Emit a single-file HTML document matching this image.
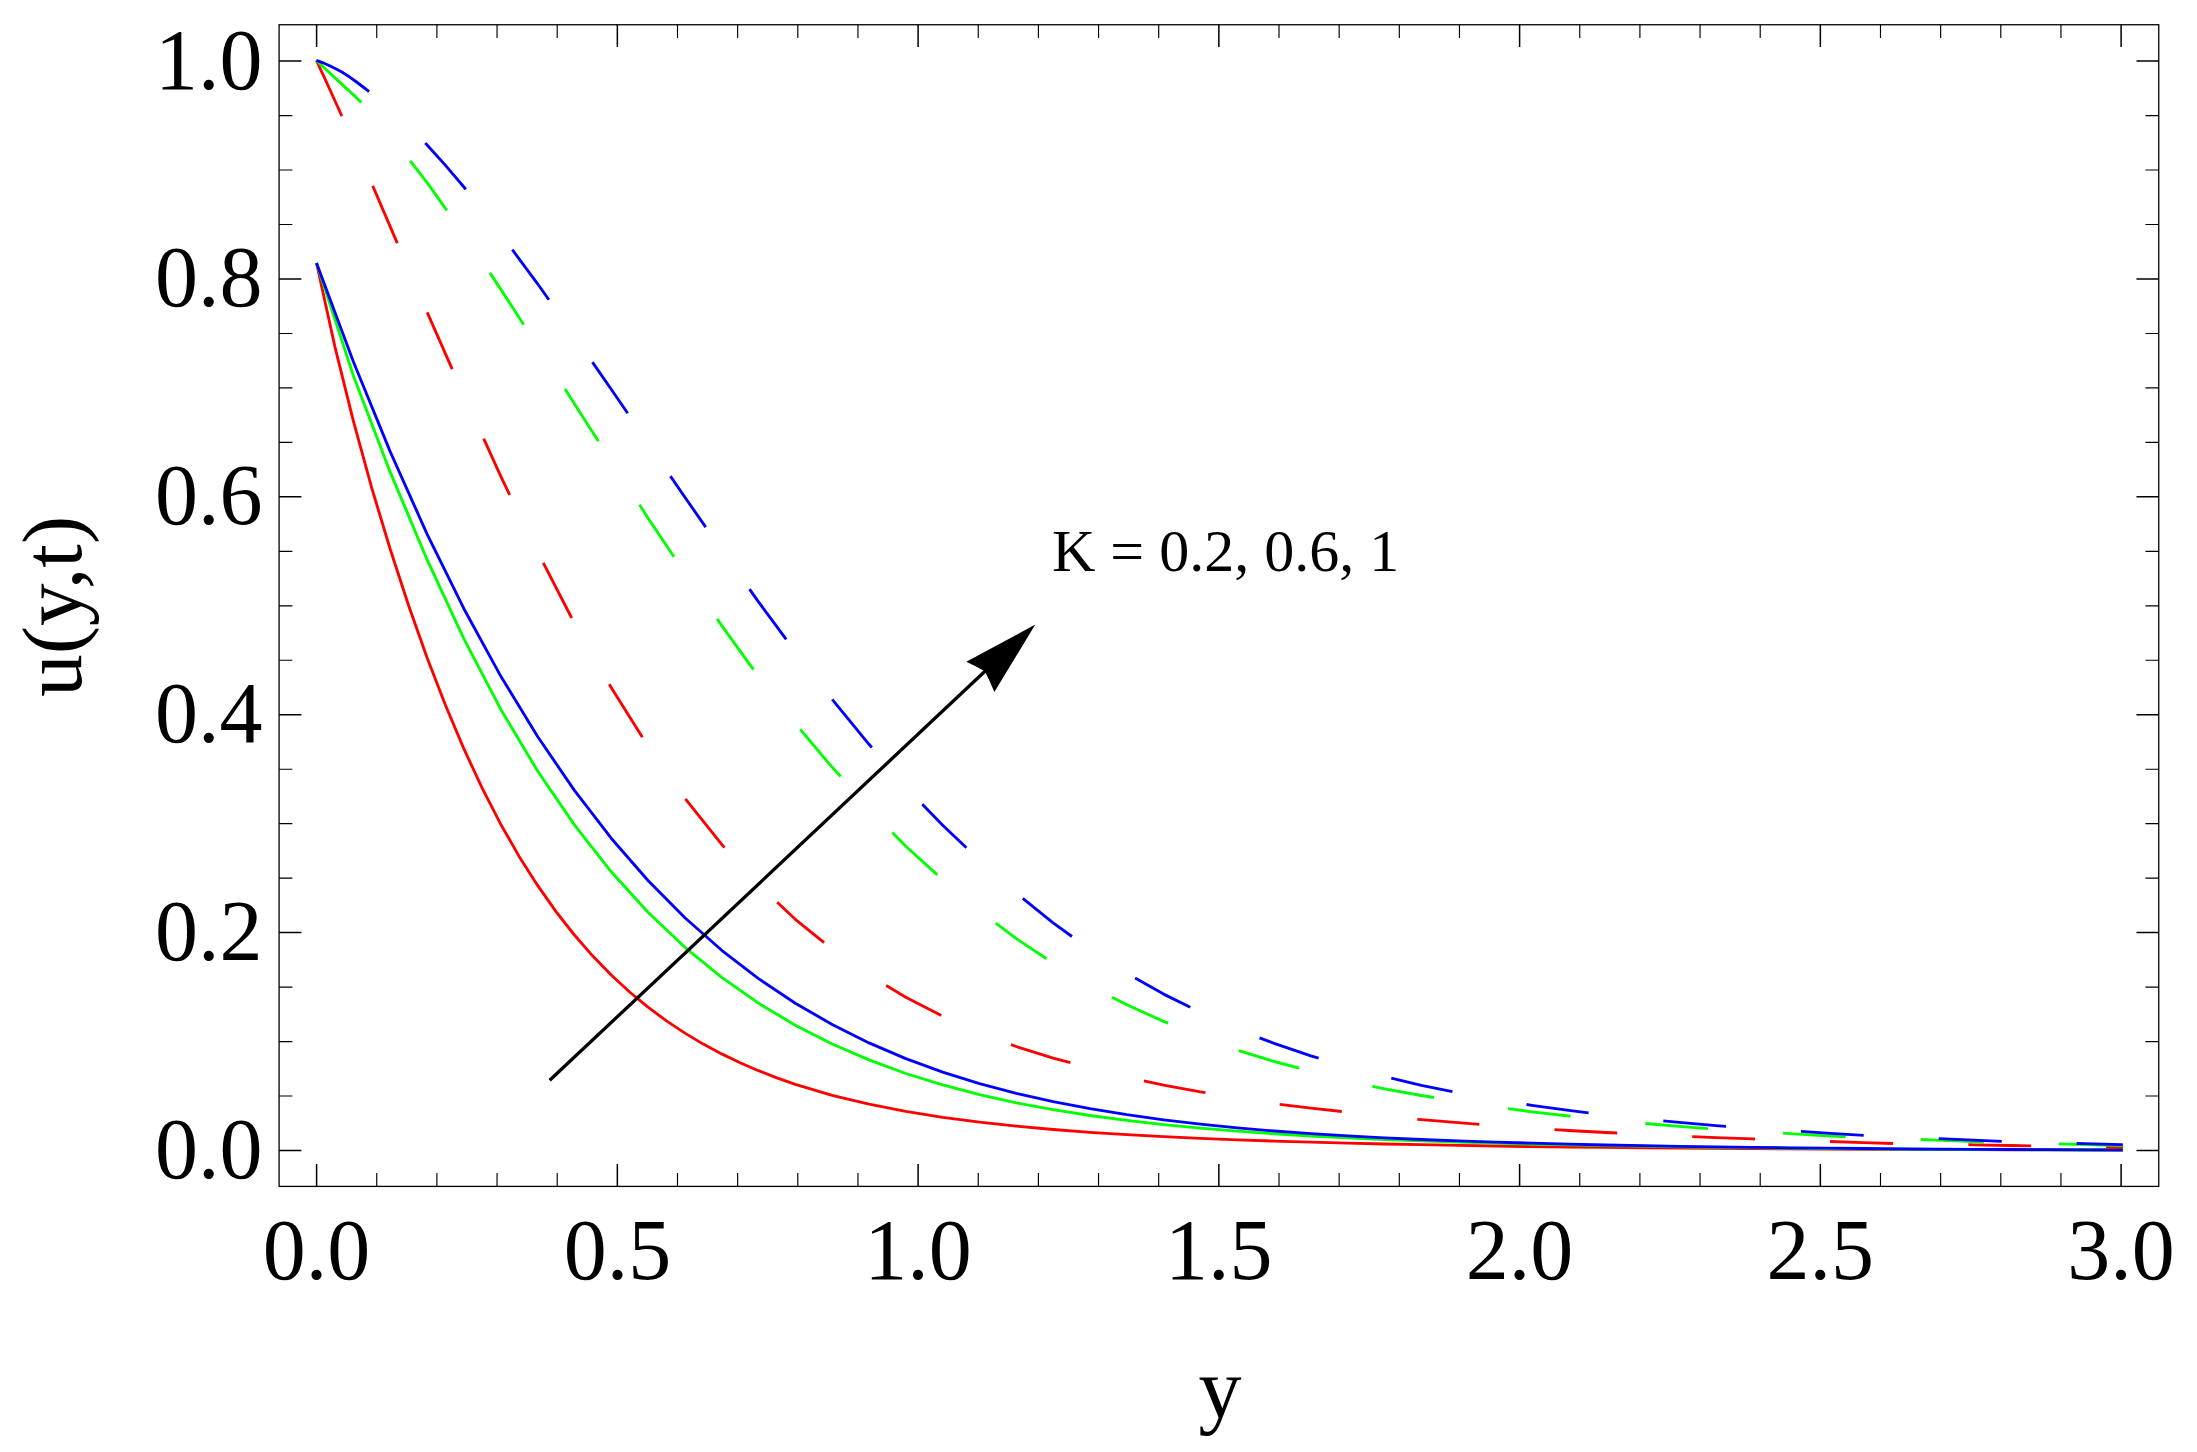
<!DOCTYPE html>
<html><head><meta charset="utf-8"><title>u(y,t) plot</title>
<style>html,body{margin:0;padding:0;background:#fff}svg{display:block}</style></head>
<body>
<svg width="2197" height="1452" viewBox="0 0 2197 1452">
<rect x="0" y="0" width="2197" height="1452" fill="#fff"/>
<path d="M316.60 1186.40V1164.10M316.60 24.75V47.05M617.35 1186.40V1164.10M617.35 24.75V47.05M918.10 1186.40V1164.10M918.10 24.75V47.05M1218.85 1186.40V1164.10M1218.85 24.75V47.05M1519.60 1186.40V1164.10M1519.60 24.75V47.05M1820.35 1186.40V1164.10M1820.35 24.75V47.05M2121.10 1186.40V1164.10M2121.10 24.75V47.05M279.10 1150.50H301.40M2158.75 1150.50H2136.45M279.10 932.62H301.40M2158.75 932.62H2136.45M279.10 714.74H301.40M2158.75 714.74H2136.45M279.10 496.86H301.40M2158.75 496.86H2136.45M279.10 278.98H301.40M2158.75 278.98H2136.45M279.10 61.10H301.40M2158.75 61.10H2136.45" fill="none" stroke="#000" stroke-width="1.5"/>
<path d="M376.75 1186.40V1173.10M376.75 24.75V38.05M436.90 1186.40V1173.10M436.90 24.75V38.05M497.05 1186.40V1173.10M497.05 24.75V38.05M557.20 1186.40V1173.10M557.20 24.75V38.05M677.50 1186.40V1173.10M677.50 24.75V38.05M737.65 1186.40V1173.10M737.65 24.75V38.05M797.80 1186.40V1173.10M797.80 24.75V38.05M857.95 1186.40V1173.10M857.95 24.75V38.05M978.25 1186.40V1173.10M978.25 24.75V38.05M1038.40 1186.40V1173.10M1038.40 24.75V38.05M1098.55 1186.40V1173.10M1098.55 24.75V38.05M1158.70 1186.40V1173.10M1158.70 24.75V38.05M1279.00 1186.40V1173.10M1279.00 24.75V38.05M1339.15 1186.40V1173.10M1339.15 24.75V38.05M1399.30 1186.40V1173.10M1399.30 24.75V38.05M1459.45 1186.40V1173.10M1459.45 24.75V38.05M1579.75 1186.40V1173.10M1579.75 24.75V38.05M1639.90 1186.40V1173.10M1639.90 24.75V38.05M1700.05 1186.40V1173.10M1700.05 24.75V38.05M1760.20 1186.40V1173.10M1760.20 24.75V38.05M1880.50 1186.40V1173.10M1880.50 24.75V38.05M1940.65 1186.40V1173.10M1940.65 24.75V38.05M2000.80 1186.40V1173.10M2000.80 24.75V38.05M2060.95 1186.40V1173.10M2060.95 24.75V38.05M279.10 1096.03H292.40M2158.75 1096.03H2145.45M279.10 1041.56H292.40M2158.75 1041.56H2145.45M279.10 987.09H292.40M2158.75 987.09H2145.45M279.10 878.15H292.40M2158.75 878.15H2145.45M279.10 823.68H292.40M2158.75 823.68H2145.45M279.10 769.21H292.40M2158.75 769.21H2145.45M279.10 660.27H292.40M2158.75 660.27H2145.45M279.10 605.80H292.40M2158.75 605.80H2145.45M279.10 551.33H292.40M2158.75 551.33H2145.45M279.10 442.39H292.40M2158.75 442.39H2145.45M279.10 387.92H292.40M2158.75 387.92H2145.45M279.10 333.45H292.40M2158.75 333.45H2145.45M279.10 224.51H292.40M2158.75 224.51H2145.45M279.10 170.04H292.40M2158.75 170.04H2145.45M279.10 115.57H292.40M2158.75 115.57H2145.45" fill="none" stroke="#000" stroke-width="1.15"/>
<rect x="279.1" y="24.75" width="1879.65" height="1161.65" fill="none" stroke="#000" stroke-width="1.3"/>
<path d="M316.5 263.0L335.0 347.1L353.4 421.2L371.8 488.2L390.3 549.5L408.7 605.8L427.1 657.7L445.5 705.3L463.9 748.9L482.3 788.4L500.7 824.2L519.1 856.4L537.6 885.4L556.0 911.6L574.4 935.0L592.8 956.1L611.2 975.0L629.6 992.0L648.0 1007.2L666.5 1020.9L684.9 1033.1L703.3 1044.1L721.7 1053.9L740.1 1062.8L758.5 1070.7L776.9 1077.8L795.3 1084.3L832.2 1095.3L869.0 1104.2L905.8 1111.4L942.7 1117.3L979.5 1122.2L1016.3 1126.2L1053.1 1129.5L1090.0 1132.3L1126.8 1134.7L1163.6 1136.7L1200.4 1138.4L1237.3 1139.8L1274.1 1141.1L1310.9 1142.2L1347.7 1143.1L1384.6 1144.0L1421.4 1144.7L1458.2 1145.4L1495.0 1146.0L1531.9 1146.6L1568.7 1147.0L1605.5 1147.4L1642.4 1147.8L1679.2 1148.1L1716.0 1148.4L1752.8 1148.7L1789.7 1148.9L1826.5 1149.1L1863.3 1149.3L1900.1 1149.4L1937.0 1149.5L1973.8 1149.6L2010.6 1149.7L2047.4 1149.8L2084.3 1149.9L2122.8 1149.9" fill="none" stroke="#ff0000" stroke-width="2.85" stroke-linejoin="round"/>
<path d="M316.5 263.0L353.4 375.8L390.3 472.4L427.1 559.7L463.9 638.9L500.7 709.2L537.6 771.0L574.4 824.9L611.2 871.8L648.0 912.3L684.9 947.3L721.7 977.4L758.5 1003.2L795.3 1025.2L832.2 1044.0L869.0 1059.9L905.8 1073.5L942.7 1084.9L979.5 1094.6L1016.3 1102.8L1053.1 1109.7L1090.0 1115.5L1126.8 1120.4L1163.6 1124.6L1200.4 1128.2L1237.3 1131.2L1274.1 1133.8L1310.9 1136.0L1347.7 1137.9L1384.6 1139.5L1421.4 1140.9L1458.2 1142.1L1495.0 1143.2L1531.9 1144.1L1568.7 1144.9L1605.5 1145.6L1642.4 1146.2L1679.2 1146.8L1716.0 1147.3L1752.8 1147.7L1789.7 1148.1L1826.5 1148.5L1863.3 1148.8L1900.1 1149.0L1937.0 1149.3L1973.8 1149.5L2010.6 1149.7L2047.4 1149.8L2084.3 1150.0L2122.8 1150.1" fill="none" stroke="#00ff00" stroke-width="2.85" stroke-linejoin="round"/>
<path d="M316.5 263.0L353.4 361.8L390.3 451.9L427.1 534.1L463.9 608.7L500.7 676.1L537.6 736.5L574.4 790.4L611.2 838.2L648.0 880.5L684.9 917.7L721.7 950.3L758.5 978.6L795.3 1003.2L832.2 1024.5L869.0 1042.9L905.8 1058.6L942.7 1072.1L979.5 1083.6L1016.3 1093.3L1053.1 1101.7L1090.0 1108.7L1126.8 1114.7L1163.6 1119.8L1200.4 1124.2L1237.3 1127.9L1274.1 1131.0L1310.9 1133.7L1347.7 1135.9L1384.6 1137.9L1421.4 1139.5L1458.2 1140.9L1495.0 1142.2L1531.9 1143.2L1568.7 1144.1L1605.5 1145.0L1642.4 1145.7L1679.2 1146.3L1716.0 1146.8L1752.8 1147.3L1789.7 1147.8L1826.5 1148.1L1863.3 1148.5L1900.1 1148.8L1937.0 1149.1L1973.8 1149.3L2010.6 1149.5L2047.4 1149.7L2084.3 1149.9L2122.8 1150.0" fill="none" stroke="#0000ff" stroke-width="2.85" stroke-linejoin="round"/>
<path d="M316.4 60.4L319.6 67.3L322.8 74.2L326.0 81.1L329.1 88.0L332.3 95.0L335.5 102.0L338.7 109.0L341.9 116.1M372.7 185.8L390.3 226.9L397.3 243.1M427.2 312.4L452.2 369.1M483.7 438.6L500.7 476.1L509.7 494.8M543.3 562.9L571.7 618.0M609.3 684.1L611.2 687.5L642.4 737.2M685.4 798.9L721.7 844.4L724.5 847.5M777.2 902.2L795.3 919.3L824.1 942.7M886.2 985.5L905.8 997.3L941.3 1015.6M1011.0 1044.6L1016.3 1046.5L1053.1 1058.1L1070.4 1062.7M1143.9 1080.9L1163.6 1085.1L1200.4 1091.9L1205.4 1092.7M1279.7 1104.3L1310.9 1108.1L1341.8 1111.5M1417.3 1119.3L1421.4 1119.7L1458.2 1122.7L1479.4 1124.3M1554.5 1129.7L1568.7 1130.5L1605.5 1132.5L1617.2 1133.0M1692.2 1136.6L1716.0 1137.6L1752.8 1138.9L1755.0 1139.0M1830.1 1141.5L1863.3 1142.6L1893.0 1143.5M1968.3 1144.7L1973.8 1144.8L2010.6 1145.5L2031.0 1145.9M2106.1 1147.5L2121.1 1147.7L2122.8 1147.7" fill="none" stroke="#ff0000" stroke-width="2.85" stroke-linejoin="round"/>
<path d="M316.4 60.4L322.0 65.7L327.6 70.9L333.2 76.2L338.9 81.4L344.5 86.6L350.1 91.7L355.7 96.9L361.3 102.5M410.2 160.8L427.1 182.6L446.8 210.4M489.9 272.9L500.7 289.1L523.7 324.8M565.0 389.1L574.4 403.8L598.4 441.2M639.5 504.7L648.0 517.9L673.9 556.7M717.1 618.9L721.7 625.6L753.5 669.6M800.2 729.4L832.2 767.3L840.6 776.5M892.3 832.6L905.8 846.2L937.3 874.9M995.8 923.2L1016.3 938.6L1046.5 958.8M1112.1 997.2L1126.8 1004.7L1163.6 1021.4L1168.2 1023.2M1238.7 1050.6L1274.1 1061.5L1299.2 1068.2M1372.3 1086.3L1384.6 1088.8L1421.4 1095.5L1434.0 1097.5M1508.1 1108.7L1531.9 1111.8L1568.7 1116.0L1570.5 1116.2M1645.3 1123.5L1679.2 1126.4L1708.0 1128.6M1783.0 1133.2L1789.7 1133.6L1826.5 1135.8L1845.7 1136.9M1920.8 1139.5L1937.0 1140.2L1973.8 1141.7L1983.7 1142.1M2058.8 1143.9L2084.3 1144.5L2121.1 1145.5L2122.8 1145.5" fill="none" stroke="#00ff00" stroke-width="2.85" stroke-linejoin="round"/>
<path d="M316.4 60.4L323.0 62.8L329.6 65.7L336.2 69.0L342.8 72.6L349.3 76.8L355.9 81.5L362.5 86.5L369.1 91.7M425.2 143.1L427.1 145.0L445.5 165.4L463.9 187.0L465.8 189.4M512.3 249.7L537.6 283.8L548.9 299.8M592.4 362.1L611.2 389.3L627.7 413.3M670.4 476.1L684.9 497.2L705.7 527.1M749.5 589.2L758.5 601.8L786.2 639.3M832.2 699.4L869.0 744.3L871.8 747.5M922.3 804.2L942.7 825.3L966.4 847.8M1022.8 898.4L1053.1 922.8L1072.0 936.5M1135.1 978.1L1163.6 994.1L1190.3 1007.3M1259.5 1037.8L1274.1 1043.4L1310.9 1055.9L1318.6 1058.2M1391.3 1078.2L1421.4 1085.3L1452.4 1091.7M1526.5 1104.5L1531.9 1105.3L1568.7 1110.4L1588.6 1112.8M1663.3 1120.8L1679.2 1122.4L1716.0 1125.6L1726.0 1126.4M1801.0 1131.4L1826.5 1133.1L1863.7 1135.3M1938.7 1138.7L1973.8 1140.2L2001.7 1141.3M2076.6 1143.5L2084.3 1143.7L2121.1 1144.7L2122.8 1144.7" fill="none" stroke="#0000ff" stroke-width="2.85" stroke-linejoin="round"/>
<path d="M549.7 1080.3L987.09 669.25" stroke="#000" stroke-width="3.3" fill="none"/>
<path d="M1035.3 624.6L966.3 661.8Q975.93 666.24 984.9 671.3Q989.98 681.34 994.4 692.0Z" fill="#000"/>
<text x="316.6" y="1278.7" font-size="86" text-anchor="middle" font-family="Liberation Serif, Times New Roman, serif">0.0</text>
<text x="617.4" y="1278.7" font-size="86" text-anchor="middle" font-family="Liberation Serif, Times New Roman, serif">0.5</text>
<text x="918.1" y="1278.7" font-size="86" text-anchor="middle" font-family="Liberation Serif, Times New Roman, serif">1.0</text>
<text x="1218.8" y="1278.7" font-size="86" text-anchor="middle" font-family="Liberation Serif, Times New Roman, serif">1.5</text>
<text x="1519.6" y="1278.7" font-size="86" text-anchor="middle" font-family="Liberation Serif, Times New Roman, serif">2.0</text>
<text x="1820.3" y="1278.7" font-size="86" text-anchor="middle" font-family="Liberation Serif, Times New Roman, serif">2.5</text>
<text x="2121.1" y="1278.7" font-size="86" text-anchor="middle" font-family="Liberation Serif, Times New Roman, serif">3.0</text>
<text x="262.5" y="1177.9" font-size="86" text-anchor="end" font-family="Liberation Serif, Times New Roman, serif">0.0</text>
<text x="262.5" y="960.0" font-size="86" text-anchor="end" font-family="Liberation Serif, Times New Roman, serif">0.2</text>
<text x="262.5" y="742.1" font-size="86" text-anchor="end" font-family="Liberation Serif, Times New Roman, serif">0.4</text>
<text x="262.5" y="524.3" font-size="86" text-anchor="end" font-family="Liberation Serif, Times New Roman, serif">0.6</text>
<text x="262.5" y="306.4" font-size="86" text-anchor="end" font-family="Liberation Serif, Times New Roman, serif">0.8</text>
<text x="262.5" y="88.5" font-size="86" text-anchor="end" font-family="Liberation Serif, Times New Roman, serif">1.0</text>
<text x="1219.9" y="1417" font-size="86" text-anchor="middle" font-family="Liberation Serif, Times New Roman, serif">y</text>
<text transform="translate(81.3 606.2) rotate(-90)" font-size="85" text-anchor="middle" font-family="Liberation Serif, Times New Roman, serif">u(y,t)</text>
<text x="1052" y="571" font-size="60" font-family="Liberation Serif, Times New Roman, serif">K = 0.2, 0.6, 1</text>
</svg>
</body></html>
